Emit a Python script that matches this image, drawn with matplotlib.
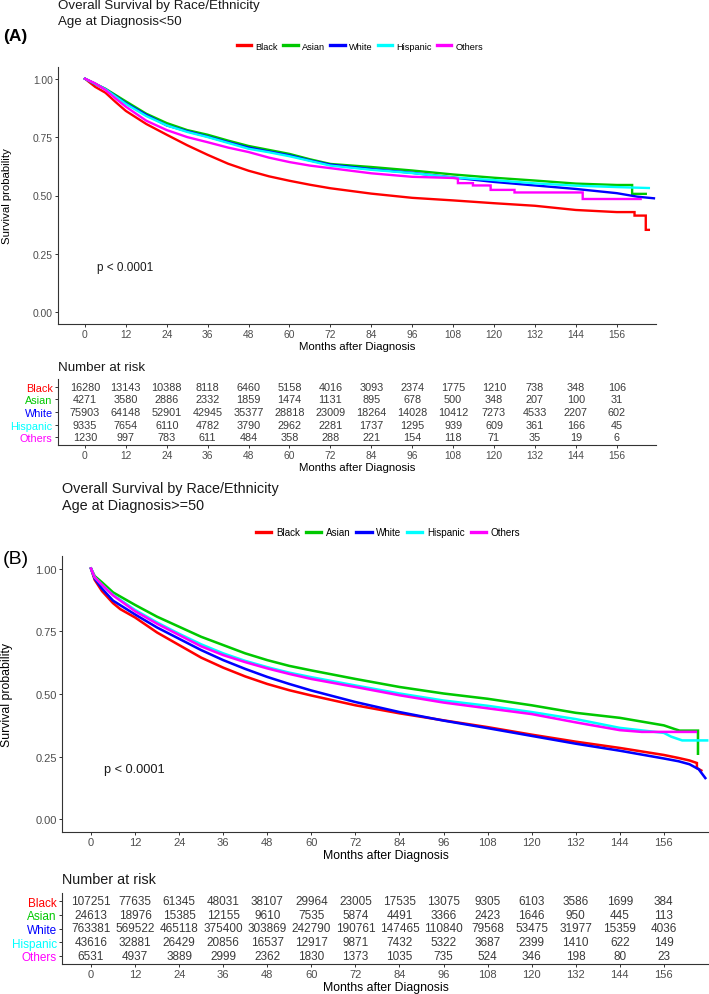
import matplotlib
matplotlib.use("Agg")
import matplotlib.pyplot as plt
from matplotlib.lines import Line2D

plt.rcParams['font.family'] = ['Liberation Sans', 'DejaVu Sans']

W, H = 709, 995
DPI = 100

groups = ["Black", "Asian", "White", "Hispanic", "Others"]
colors = ["#FF0000", "#00C800", "#0000FF", "#00FFFF", "#FF00FF"]
ticks = [0, 12, 24, 36, 48, 60, 72, 84, 96, 108, 120, 132, 144, 156]

# ---------------- Panel A (Age < 50) survival curves ----------------
A_black_t = [0, 3, 6, 9, 12, 18, 24, 30, 36, 42, 48, 54, 60, 66, 72, 84, 96, 108, 120, 132, 144, 156, 161.2, 161.2, 164.5, 164.5, 165.4]
A_black_s = [1.0, 0.965, 0.94, 0.90, 0.862, 0.806, 0.76, 0.715, 0.674, 0.636, 0.606, 0.582, 0.563, 0.546, 0.531, 0.508, 0.49, 0.479, 0.467, 0.456, 0.438, 0.429, 0.429, 0.414, 0.414, 0.353, 0.353]
A_asian_t = [0, 3, 6, 9, 12, 18, 24, 30, 36, 42, 48, 54, 60, 66, 72, 84, 96, 108, 120, 132, 144, 156, 160.5, 160.5, 164.5]
A_asian_s = [1.0, 0.978, 0.957, 0.93, 0.903, 0.85, 0.81, 0.78, 0.76, 0.735, 0.712, 0.695, 0.678, 0.655, 0.635, 0.622, 0.607, 0.59, 0.576, 0.564, 0.551, 0.545, 0.545, 0.507, 0.507]
A_white_t = [0, 3, 6, 9, 12, 18, 24, 30, 36, 42, 48, 54, 60, 66, 72, 84, 96, 108, 120, 132, 144, 156, 162, 166.9]
A_white_s = [1.0, 0.978, 0.955, 0.925, 0.895, 0.845, 0.80, 0.775, 0.752, 0.728, 0.705, 0.688, 0.672, 0.65, 0.632, 0.613, 0.597, 0.577, 0.558, 0.543, 0.528, 0.51, 0.495, 0.488]
A_hisp_t = [0, 3, 6, 9, 12, 18, 24, 30, 36, 42, 48, 54, 60, 66, 72, 84, 96, 108, 120, 132, 144, 156, 165.4]
A_hisp_s = [1.0, 0.978, 0.955, 0.923, 0.892, 0.84, 0.80, 0.772, 0.75, 0.725, 0.70, 0.685, 0.668, 0.648, 0.628, 0.61, 0.596, 0.577, 0.566, 0.552, 0.542, 0.536, 0.532]
A_oth_t = [0, 3, 6, 9, 12, 18, 24, 30, 36, 42, 48, 54, 60, 66, 72, 84, 96, 108, 109.4, 109.4, 113.8, 113.8, 119, 119, 126, 126, 146, 146, 163]
A_oth_s = [1.0, 0.98, 0.952, 0.915, 0.88, 0.82, 0.78, 0.75, 0.728, 0.705, 0.686, 0.662, 0.643, 0.628, 0.617, 0.595, 0.58, 0.575, 0.572, 0.553, 0.553, 0.543, 0.543, 0.524, 0.524, 0.513, 0.513, 0.485, 0.485]

# ---------------- Panel B (Age >= 50) survival curves ----------------
B_black_t = [0, 1, 3, 6, 8, 12, 18, 24, 30, 36, 42, 48, 54, 60, 72, 84, 96, 108, 120, 132, 144, 156, 160, 163, 165, 165, 166.2]
B_black_s = [1.0, 0.955, 0.91, 0.862, 0.838, 0.805, 0.745, 0.695, 0.645, 0.605, 0.57, 0.54, 0.515, 0.494, 0.455, 0.423, 0.395, 0.368, 0.338, 0.31, 0.285, 0.257, 0.245, 0.235, 0.225, 0.205, 0.195]
B_asian_t = [0, 1, 3, 6, 12, 18, 24, 30, 36, 42, 48, 54, 60, 72, 84, 96, 108, 120, 132, 144, 156, 159, 160.3, 165.3, 165.3]
B_asian_s = [1.0, 0.97, 0.945, 0.905, 0.855, 0.808, 0.768, 0.728, 0.695, 0.662, 0.635, 0.612, 0.594, 0.56, 0.528, 0.502, 0.481, 0.455, 0.425, 0.405, 0.375, 0.36, 0.354, 0.354, 0.262]
B_white_t = [0, 1, 3, 6, 12, 18, 24, 30, 36, 42, 48, 54, 60, 72, 84, 96, 108, 120, 132, 144, 156, 160, 163, 165.5, 167.3]
B_white_s = [1.0, 0.96, 0.92, 0.872, 0.817, 0.765, 0.72, 0.675, 0.635, 0.60, 0.568, 0.54, 0.514, 0.468, 0.428, 0.394, 0.364, 0.333, 0.302, 0.274, 0.243, 0.232, 0.22, 0.2, 0.165]
B_hisp_t = [0, 1, 3, 6, 12, 18, 24, 30, 36, 42, 48, 54, 60, 72, 84, 96, 108, 120, 132, 144, 156, 158, 161, 167.8]
B_hisp_s = [1.0, 0.965, 0.935, 0.895, 0.835, 0.785, 0.74, 0.698, 0.662, 0.632, 0.607, 0.585, 0.567, 0.534, 0.502, 0.474, 0.453, 0.428, 0.40, 0.365, 0.345, 0.33, 0.315, 0.315]
B_oth_t = [0, 1, 3, 6, 12, 18, 24, 30, 36, 42, 48, 54, 60, 72, 84, 96, 108, 120, 132, 144, 150, 164.7]
B_oth_s = [1.0, 0.965, 0.935, 0.893, 0.83, 0.78, 0.735, 0.69, 0.655, 0.627, 0.602, 0.58, 0.56, 0.528, 0.495, 0.466, 0.443, 0.42, 0.387, 0.356, 0.349, 0.349]

# ---------------- Number at risk ----------------
A_risk_black = [16280, 13143, 10388, 8118, 6460, 5158, 4016, 3093, 2374, 1775, 1210, 738, 348, 106]
A_risk_asian = [4271, 3580, 2886, 2332, 1859, 1474, 1131, 895, 678, 500, 348, 207, 100, 31]
A_risk_white = [75903, 64148, 52901, 42945, 35377, 28818, 23009, 18264, 14028, 10412, 7273, 4533, 2207, 602]
A_risk_hisp = [9335, 7654, 6110, 4782, 3790, 2962, 2281, 1737, 1295, 939, 609, 361, 166, 45]
A_risk_oth = [1230, 997, 783, 611, 484, 358, 288, 221, 154, 118, 71, 35, 19, 6]

B_risk_black = [107251, 77635, 61345, 48031, 38107, 29964, 23005, 17535, 13075, 9305, 6103, 3586, 1699, 384]
B_risk_asian = [24613, 18976, 15385, 12155, 9610, 7535, 5874, 4491, 3366, 2423, 1646, 950, 445, 113]
B_risk_white = [763381, 569522, 465118, 375400, 303869, 242790, 190761, 147465, 110840, 79568, 53475, 31977, 15359, 4036]
B_risk_hisp = [43616, 32881, 26429, 20856, 16537, 12917, 9871, 7432, 5322, 3687, 2399, 1410, 622, 149]
B_risk_oth = [6531, 4937, 3889, 2999, 2362, 1830, 1373, 1035, 735, 524, 346, 198, 80, 23]

fig = plt.figure(figsize=(W / DPI, H / DPI), dpi=DPI)

AXC = "#333333"
TXC = "#4D4D4D"


def px_axes(left, top, right, bottom):
    return fig.add_axes([left / W, 1 - bottom / H, (right - left) / W, (bottom - top) / H])


def ftext(x, y, s, **kw):
    fig.text(x / W, 1 - y / H, s, **kw)


def style(ax, fs):
    for sp in ["top", "right"]:
        ax.spines[sp].set_visible(False)
    for sp in ["left", "bottom"]:
        ax.spines[sp].set_color(AXC)
        ax.spines[sp].set_linewidth(0.8)
    ax.tick_params(axis="both", length=2.2, width=0.7, color=AXC, labelsize=fs,
                   labelcolor=TXC, pad=1.6)


def panel(sc, title2, tag, tag_bold, curves, risks, geom):
    (ml, mt, mr, mb, xlim, rt, rb, title_y, leg_y, leg_x, tag_y,
     risk_title_y, p_y) = geom
    ftext(ml, title_y, "Overall Survival by Race/Ethnicity", fontsize=9.6 * sc,
          va="center", ha="left", color="#1a1a1a")
    ftext(ml, title_y + 16 * sc, title2, fontsize=9.6 * sc, va="center", ha="left",
          color="#1a1a1a")
    ftext(3, tag_y, tag, fontsize=12.5 * sc if tag_bold else 13 * sc,
          fontweight="bold" if tag_bold else "normal", va="center", ha="left")

    ax = px_axes(ml, mt, mr, mb)
    for (t, s), c, g in zip(curves, colors, groups):
        ax.plot(t, s, color=c, lw=1.7 * sc, label=g, solid_joinstyle="miter")
    ax.set_xlim(*xlim)
    ax.set_ylim(-0.05, 1.05)
    ax.set_xticks(ticks)
    ax.set_yticks([0, 0.25, 0.5, 0.75, 1.0])
    ax.set_yticklabels(["0.00", "0.25", "0.50", "0.75", "1.00"])
    style(ax, 7.4 * sc)
    ax.set_xlabel("Months after Diagnosis", fontsize=8.2 * sc, labelpad=1.5)
    ax.text(3.5, p_y, "p < 0.0001", fontsize=8.5 * sc, ha="left", va="center",
            color="#1a1a1a")
    ftext(7, (mt + mb) / 2, "Survival probability", fontsize=8.2 * sc, rotation=90,
          va="center", ha="center")

    handles = [Line2D([], [], color=c, lw=2.4) for c in colors]
    fig.legend(handles, groups, loc="center", ncol=5,
               bbox_to_anchor=(leg_x / W, 1 - leg_y / H), frameon=False,
               fontsize=6.6 * sc, handlelength=1.55, handletextpad=0.45,
               columnspacing=0.6, borderaxespad=0, borderpad=0)

    rx = px_axes(ml, rt, mr, rb)
    rows = [5, 4, 3, 2, 1]
    for r, vals in zip(rows, risks):
        for t, v in zip(ticks, vals):
            rx.text(t, r, str(v), ha="center", va="center", fontsize=7.8 * sc,
                    color="#3a3a3a")
    rx.set_xlim(*xlim)
    rx.set_ylim(0.4, 5.6)
    rx.set_xticks(ticks)
    rx.set_yticks(rows)
    rx.set_yticklabels(groups)
    style(rx, 7.4 * sc)
    for lab, c in zip(rx.get_yticklabels(), colors):
        lab.set_color(c)
        lab.set_fontsize(7.8 * sc)
    rx.set_xlabel("Months after Diagnosis", fontsize=8.2 * sc, labelpad=1.5)
    ftext(ml, risk_title_y, "Number at risk", fontsize=9.6 * sc, va="center",
          ha="left", color="#1a1a1a")


curves_A = [(A_black_t, A_black_s), (A_asian_t, A_asian_s), (A_white_t, A_white_s),
            (A_hisp_t, A_hisp_s), (A_oth_t, A_oth_s)]
risks_A = [A_risk_black, A_risk_asian, A_risk_white, A_risk_hisp, A_risk_oth]
curves_B = [(B_black_t, B_black_s), (B_asian_t, B_asian_s), (B_white_t, B_white_s),
            (B_hisp_t, B_hisp_s), (B_oth_t, B_oth_s)]
risks_B = [B_risk_black, B_risk_asian, B_risk_white, B_risk_hisp, B_risk_oth]

panel(1.0, "Age at Diagnosis<50", "(A)", True, curves_A, risks_A,
      (58, 68, 656, 325, (-7.9, 167.5), 380, 446, 6.5, 47, 360, 36, 368, 0.195))
panel(1.08, "Age at Diagnosis>=50", "(B)", False, curves_B, risks_B,
      (62, 557, 709, 833, (-7.9, 168.3), 894, 965, 489, 533, 388, 560, 880, 0.20))

fig.savefig("out.png", dpi=DPI)
